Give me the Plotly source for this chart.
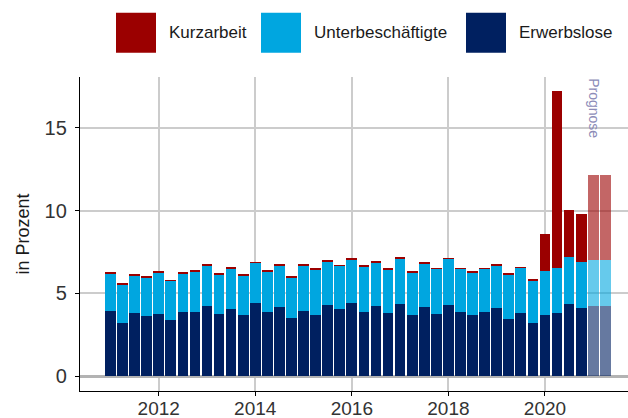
import plotly.graph_objects as go

# ---- data (percent, quarterly 2011 Q1 – 2021 Q2; last two quarters = forecast) ----
years = [2011, 2012, 2013, 2014, 2015, 2016, 2017, 2018, 2019, 2020, 2021]
quarters = [f"{y}-Q{q}" for y in years for q in (1, 2, 3, 4)][:42]

erwerbslose = [3.90, 3.22, 3.83, 3.64, 3.76, 3.37, 3.85, 3.88, 4.25, 3.73,
               4.06, 3.67, 4.40, 3.86, 4.17, 3.53, 3.92, 3.68, 4.29, 4.04,
               4.43, 3.84, 4.25, 3.83, 4.38, 3.66, 4.15, 3.77, 4.31, 3.86,
               3.69, 3.84, 4.09, 3.45, 3.79, 3.22, 3.70, 3.79, 4.35, 4.10,
               4.24, 4.24]
unterbeschaeftigte = [2.27, 2.33, 2.25, 2.30, 2.47, 2.38, 2.35, 2.42, 2.42, 2.39,
                      2.41, 2.41, 2.43, 2.45, 2.51, 2.45, 2.76, 2.73, 2.63, 2.61,
                      2.63, 2.76, 2.62, 2.59, 2.70, 2.62, 2.67, 2.70, 2.77, 2.62,
                      2.56, 2.63, 2.61, 2.69, 2.74, 2.58, 2.63, 2.73, 2.82, 2.82,
                      2.80, 2.80]
kurzarbeit = [0.06, 0.03, 0.03, 0.06, 0.08, 0.03, 0.04, 0.07, 0.07, 0.06,
              0.06, 0.07, 0.06, 0.05, 0.04, 0.03, 0.05, 0.08, 0.05, 0.05,
              0.07, 0.06, 0.04, 0.08, 0.07, 0.03, 0.03, 0.05, 0.03, 0.03,
              0.08, 0.03, 0.03, 0.04, 0.03, 0.05, 2.27, 10.72, 2.88, 2.87,
              5.08, 5.08]
prognose = [False] * 40 + [True, True]

x_tick_vals = [2012, 2014, 2016, 2018, 2020]
y_tick_vals = [0, 5, 10, 15]

# ---- positions ----
xpos = [int(s[:4]) + (int(s[-1]) - 1) / 4 for s in quarters]
opac = [0.6 if p else 1.0 for p in prognose]

C_RED = "#9b0000"
C_LIGHT = "#00a6e0"
C_NAVY = "#002060"
FONT = "Liberation Sans, Arial, sans-serif"

fig = go.Figure()
for name, vals, col in [("Erwerbslose", erwerbslose, C_NAVY),
                        ("Unterbeschäftigte", unterbeschaeftigte, C_LIGHT),
                        ("Kurzarbeit", kurzarbeit, C_RED)]:
    fig.add_trace(go.Bar(x=xpos, y=vals, name=name,
                         marker=dict(color=col, opacity=opac, line=dict(width=0)),
                         showlegend=False))

# plot area in pixels
W, H = 628, 418
L, R, T, B = 80, 0, 77, 27
pw, ph = W - L - R, H - T - B


def px(x):
    return (x - L) / pw


def py(y):
    return (H - B - y) / ph


shapes = []
annotations = []
legend_items = [("Kurzarbeit", C_RED, 116), ("Unterbeschäftigte", C_LIGHT, 261),
                ("Erwerbslose", C_NAVY, 466)]
for label, col, x0 in legend_items:
    shapes.append(dict(type="rect", xref="paper", yref="paper",
                       x0=px(x0), x1=px(x0 + 40), y0=py(52.7), y1=py(12.7),
                       fillcolor=col, line=dict(width=0), layer="above"))
    annotations.append(dict(text=label, xref="paper", yref="paper",
                            x=px(x0 + 51), y=py(32.7), xanchor="left", yanchor="middle",
                            showarrow=False, font=dict(family=FONT, size=17, color="#1a1a1a")))

annotations.append(dict(text="Prognose", x=2021.0, y=16.17, xref="x", yref="y",
                        textangle=90, showarrow=False,
                        font=dict(family=FONT, size=14, color="#8c8cb8")))

fig.update_layout(
    width=W, height=H,
    margin=dict(l=L, r=R, t=T, b=B, autoexpand=False),
    paper_bgcolor="white", plot_bgcolor="white",
    barmode="stack", bargap=0.115,
    font=dict(family=FONT),
    shapes=shapes, annotations=annotations,
    xaxis=dict(range=[2010.37, 2021.72], tickvals=x_tick_vals,
               ticktext=[str(v) for v in x_tick_vals], automargin=False,
               showgrid=True, gridcolor="#cccccc", gridwidth=1.6,
               showline=True, linecolor="#000000", linewidth=1.3,
               ticks="outside", ticklen=4, tickcolor="#000000", tickwidth=1.3,
               tickfont=dict(family=FONT, size=19, color="#333333"),
               ticklabelstandoff=-4,
               zeroline=False),
    yaxis=dict(range=[-0.906, 18.07], tickvals=y_tick_vals, automargin=False,
               showgrid=True, gridcolor="#cccccc", gridwidth=1.6,
               showline=True, linecolor="#000000", linewidth=1.3,
               ticks="outside", ticklen=4, tickcolor="#000000", tickwidth=1.3,
               tickfont=dict(family=FONT, size=20, color="#333333"),
               ticklabelstandoff=4,
               zeroline=True, zerolinecolor="#b3b3b3", zerolinewidth=3,
               title=dict(text="in Prozent", font=dict(family=FONT, size=18, color="#1a1a1a"),
                          standoff=10)),
)

fig.write_html("out.html", config={"displayModeBar": False},
               post_script="document.body.style.margin='0';document.body.style.overflow='hidden';")
